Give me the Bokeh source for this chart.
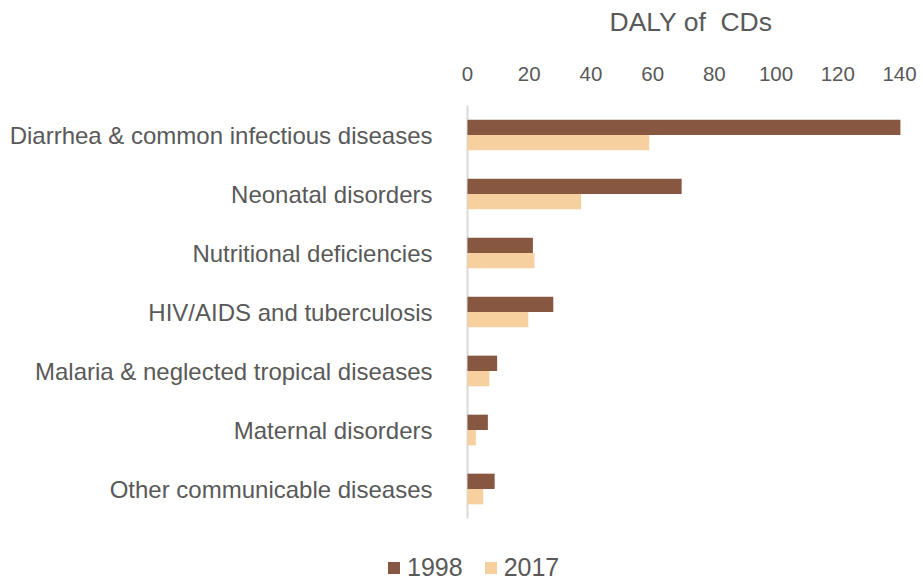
from bokeh.plotting import figure
from bokeh.models import ColumnDataSource, Range1d, FixedTicker, Legend, LegendItem
from bokeh.transform import dodge
from bokeh.embed import file_html
from bokeh.resources import INLINE

categories = [
    "Diarrhea & common infectious diseases",
    "Neonatal disorders",
    "Nutritional deficiencies",
    "HIV/AIDS and tuberculosis",
    "Malaria & neglected tropical diseases",
    "Maternal disorders",
    "Other communicable diseases",
]
daly_1998 = [140.3, 69.4, 21.2, 27.8, 9.6, 6.6, 8.8]
daly_2017 = [58.9, 36.8, 21.7, 19.7, 7.1, 2.7, 5.1]
x_ticks = [0, 20, 40, 60, 80, 100, 120, 140]
series_names = ["1998", "2017"]

FONT = "Liberation Sans"
GREY = "#595959"
C1998 = "#875741"
C2017 = "#F7D09F"

W, H = 923, 580
n = len(categories)
ypos = list(range(n - 1, -1, -1))          # first category on top
src = ColumnDataSource(dict(y=ypos, cat=categories, a=daly_1998, b=daly_2017))

# pixel layout of the plotting area inside the full-canvas frame
PX_LEFT, PX_RIGHT = 467, 899               # x = 0 and x = 140
PX_TOP, PX_BOTTOM = 105, 518               # category band
ux = (PX_RIGHT - PX_LEFT) / (x_ticks[-1] - x_ticks[0])
uy = (PX_BOTTOM - PX_TOP) / n
y_top = n - 0.5
x_range = Range1d(-PX_LEFT / ux, x_ticks[-1] + (W - PX_RIGHT) / ux)
y_range = Range1d(y_top - (H - PX_TOP) / uy, y_top + PX_TOP / uy)

p = figure(
    width=W, height=H,
    x_range=x_range, y_range=y_range,
    x_axis_location="above",
    output_backend="svg", toolbar_location=None,
    min_border_left=0, min_border_right=0,
    min_border_top=0, min_border_bottom=0,
)
p.outline_line_color = None
p.xgrid.grid_line_color = None
p.ygrid.grid_line_color = None

# value axis baseline
p.segment(x0=0, x1=0, y0=-0.5, y1=n - 0.5, line_color="#D9D9D9", line_width=2)

r1 = p.hbar(y=dodge("y", 0.13), right="a", left=0, height=0.26,
            source=src, fill_color=C1998, line_color=None)
r2 = p.hbar(y=dodge("y", -0.13), right="b", left=0, height=0.26,
            source=src, fill_color=C2017, line_color=None)

xa = p.xaxis[0]
xa.fixed_location = n - 0.5
xa.bounds = (0, 145)
xa.ticker = FixedTicker(ticks=x_ticks)
xa.axis_line_color = None
xa.major_tick_line_color = None
xa.minor_tick_line_color = None
xa.major_tick_out = 0
xa.major_tick_in = 0
xa.major_label_standoff = 25
xa.major_label_text_font = FONT
xa.major_label_text_font_size = "20.5px"
xa.major_label_text_color = GREY
xa.axis_label = "DALY of\u00a0 CDs"
xa.axis_label_text_font = FONT
xa.axis_label_text_font_size = "26.5px"
xa.axis_label_text_font_style = "normal"
xa.axis_label_text_color = GREY
xa.axis_label_standoff = 27

ya = p.yaxis[0]
ya.fixed_location = 0
ya.ticker = FixedTicker(ticks=ypos)
ya.major_label_overrides = {y: c for y, c in zip(ypos, categories)}
ya.axis_line_color = None
ya.major_tick_line_color = None
ya.minor_tick_line_color = None
ya.major_tick_out = 0
ya.major_tick_in = 0
ya.major_label_standoff = 35
ya.major_label_text_font = FONT
ya.major_label_text_font_size = "24px"
ya.major_label_text_color = GREY

legend = Legend(
    items=[LegendItem(label=series_names[0], renderers=[r1]),
           LegendItem(label=series_names[1], renderers=[r2])],
    orientation="horizontal",
    location=(386, -2),
    glyph_width=15, glyph_height=15,
    label_standoff=6, spacing=20,
    padding=0, margin=0,
    border_line_color=None, background_fill_alpha=0,
    label_text_font=FONT, label_text_font_size="25px", label_text_color=GREY,
)
p.add_layout(legend, "center")

open("out.html", "w").write(file_html(p, INLINE))
